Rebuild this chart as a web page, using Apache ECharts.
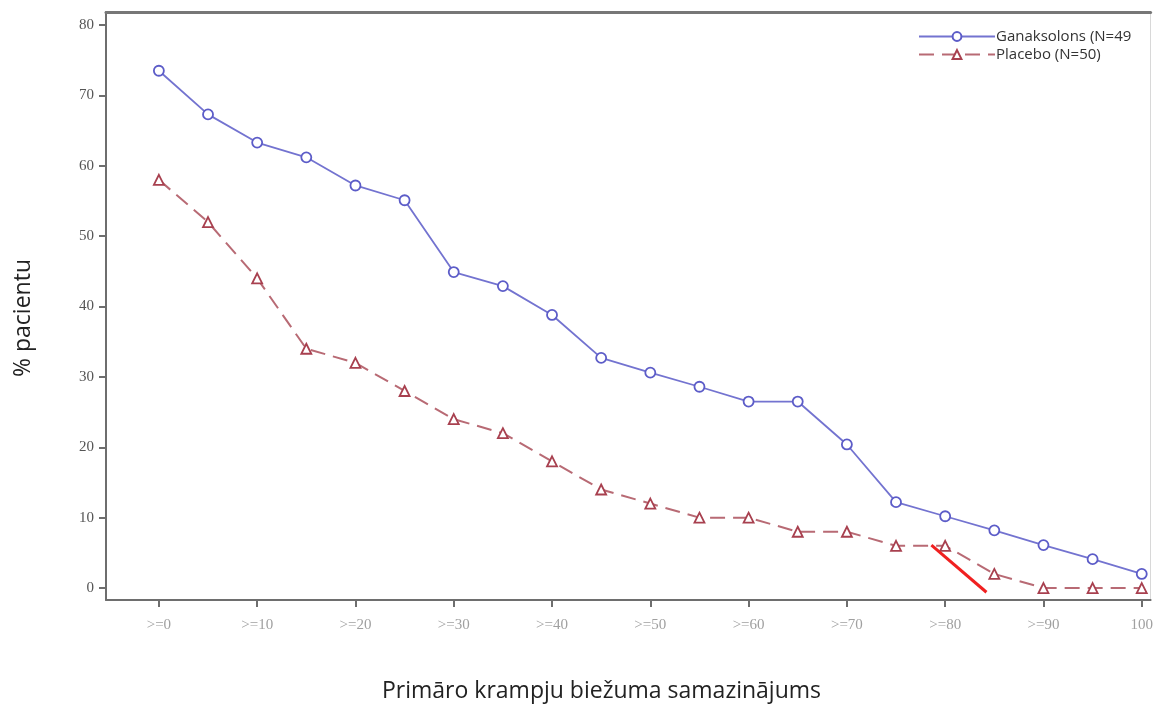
<!DOCTYPE html>
<html>
<head>
<meta charset="utf-8">
<script src="https://cdn.jsdelivr.net/npm/echarts@6/dist/echarts.min.js"></script>
<style>
html,body{margin:0;padding:0;background:#fff;}
#chart{width:1156px;height:704px;}
</style>
</head>
<body>
<div id="chart"></div>
<script>
const reductionSteps = [0,5,10,15,20,25,30,35,40,45,50,55,60,65,70,75,80,85,90,95,100];
const ganaksolons = [73.5,67.3,63.3,61.2,57.2,55.1,44.9,42.9,38.8,32.7,30.6,28.6,26.5,26.5,20.4,12.2,10.2,8.2,6.1,4.1,2.0];
const placebo = [58,52,44,34,32,28,24,22,18,14,12,10,10,8,8,6,6,2,0,0,0];
const xTickValues = [0,10,20,30,40,50,60,70,80,90,100];
const xTickLabels = ['>=0','>=10','>=20','>=30','>=40','>=50','>=60','>=70','>=80','>=90','100'];
const yTickValues = [0,10,20,30,40,50,60,70,80];
const annotationLine = [[78.6,6.1],[84.2,-0.6]];
const seriesNames = ['Ganaksolons (N=49','Placebo (N=50)'];

const chart = echarts.init(document.getElementById('chart'));
const pair = (vals) => reductionSteps.map((x,i)=>[x, vals[i]]);
chart.setOption({
  animation:false,
  backgroundColor:'#fff',
  grid:{left:106, right:3, top:12, bottom:104},
  title:{text:'Primāro krampju biežuma samazinājums', left:377, top:675,
    textStyle:{fontFamily:'Open Sans', fontSize:23, fontWeight:'normal', color:'#222'}},
  graphic:[{type:'text', x:23, y:318, rotation:Math.PI/2,
    style:{text:'% pacientu', fontFamily:'Open Sans', fontSize:23, fill:'#222', align:'center', verticalAlign:'middle'}}],
  legend:{orient:'vertical', left:913, top:24, itemWidth:76, itemHeight:11, itemGap:3,
    data:seriesNames,
    textStyle:{fontFamily:'Open Sans', fontSize:15, color:'#333', padding:[0,0,0,-4]}},
  xAxis:[{type:'value', min:-5.38, max:100.9, position:'bottom',
    splitLine:{show:false},
    axisLine:{onZero:false, lineStyle:{color:'#6e6e6e', width:2}},
    axisTick:{customValues:xTickValues, length:7, lineStyle:{color:'#6e6e6e', width:2}},
    axisLabel:{customValues:xTickValues, margin:18, fontFamily:'Liberation Serif', fontSize:15, color:'#a0a0a0',
      formatter:(v)=>xTickLabels[xTickValues.indexOf(v)]}},
    {type:'value', min:-5.38, max:100.9, position:'top',
    splitLine:{show:false}, axisTick:{show:false}, axisLabel:{show:false},
    axisLine:{show:true, onZero:false, lineStyle:{color:'#777', width:3}}}],
  yAxis:[{type:'value', min:-1.7, max:81.85, position:'left',
    splitLine:{show:false},
    axisLine:{onZero:false, lineStyle:{color:'#6e6e6e', width:2}},
    axisTick:{customValues:yTickValues, length:7, lineStyle:{color:'#6e6e6e', width:2}},
    axisLabel:{customValues:yTickValues, margin:12, fontFamily:'Liberation Serif', fontSize:15, color:'#555'}},
    {type:'value', min:-1.7, max:81.85, position:'right',
    splitLine:{show:false}, axisTick:{show:false}, axisLabel:{show:false},
    axisLine:{show:true, onZero:false, lineStyle:{color:'#d8d8d8', width:1}}}],
  series:[
    {name:seriesNames[0], type:'line', data:pair(ganaksolons),
     symbol:'circle', symbolSize:10, showAllSymbol:true,
     itemStyle:{color:'#fff', borderColor:'#5c5cc8', borderWidth:1.8},
     lineStyle:{color:'#7373d0', width:1.8}},
    {name:seriesNames[1], type:'line', data:pair(placebo),
     symbol:'triangle', symbolSize:10, showAllSymbol:true,
     itemStyle:{color:'#fff', borderColor:'#a8404f', borderWidth:1.8},
     lineStyle:{color:'#b86a74', width:2, type:[15,8]}},
    {name:'annotation', type:'line', data:annotationLine, symbol:'none',
     lineStyle:{color:'#f02020', width:3}, silent:true, z:5}
  ]
});
</script>
</body>
</html>
